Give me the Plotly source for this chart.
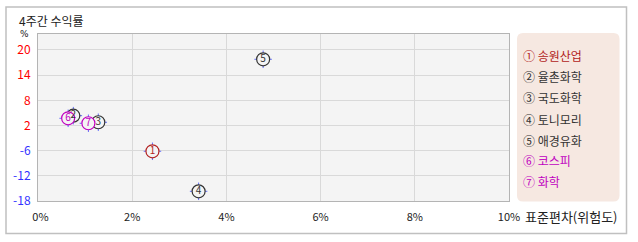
import plotly.graph_objects as go

names = ["송원산업", "율촌화학", "국도화학", "토니모리", "애경유화", "코스피", "화학"]
labels = ["1", "2", "3", "4", "5", "6", "7"]
circled = ["①", "②", "③", "④", "⑤", "⑥", "⑦"]
risk = [2.43, 0.75, 1.28, 3.41, 4.78, 0.64, 1.07]        # 표준편차 (%)
ret = [-5.49, 3.47, 1.81, -15.56, 17.66, 2.81, 1.56]     # 4주간 수익률 (%)
colors = ["#b22222", "#333333", "#333333", "#333333", "#333333", "#c000c0", "#c000c0"]

y_tick_vals = [-18, -11.667, -5.333, 1, 7.333, 13.667, 20]
y_tick_text = ["-18", "-12", "-6", "2", "8", "14", "20"]
x_tick_vals = [0, 2, 4, 6, 8, 10]
x_tick_text = ["\u00a0\u00a00%", "2%", "4%", "6%", "8%", "10%"]

FONT = "Noto Sans CJK KR, Dotum, sans-serif"

def ycol(t):
    return "#ff0000" if not t.startswith("-") else "#3333ff"

fig = go.Figure()
fig.add_trace(go.Scatter(
    x=risk, y=ret, mode="markers", hoverinfo="skip",
    marker=dict(symbol="cross-thin-open", size=12.5, line=dict(color=colors, width=1)),
    showlegend=False))
fig.add_trace(go.Scatter(
    x=risk, y=ret, mode="markers+text", text=labels, textposition="middle center",
    textfont=dict(family=FONT, size=10, color=colors),
    marker=dict(symbol="circle", size=13, color="#f4f4f4", line=dict(color=colors, width=1.2)),
    showlegend=False, hovertext=names))

fig.update_xaxes(range=[0, 10], tickvals=x_tick_vals, ticktext=x_tick_text,
                 showgrid=True, gridcolor="#d9d9d9", gridwidth=1, zeroline=False,
                 showline=True, linecolor="#b4b4b4", mirror=True,
                 ticks="outside", ticklen=6, tickcolor="rgba(0,0,0,0)",
                 tickfont=dict(family=FONT, size=11, color="#222"))
fig.update_yaxes(range=[-18, 24.02], tickvals=y_tick_vals,
                 ticktext=[f"<span style='color:{ycol(t)}'>{t}</span>" for t in y_tick_text],
                 showgrid=True, gridcolor="#d9d9d9", gridwidth=1, zeroline=False,
                 showline=True, linecolor="#b4b4b4", mirror=True,
                 ticks="outside", ticklen=4, tickcolor="rgba(0,0,0,0)",
                 tickfont=dict(family=FONT, size=12))

W, H = 638, 242
L, R, T, B = 38, 129, 34, 41
pw, ph = W - L - R, H - T - B

def px(x):
    return (x - L) / pw

def py(y):
    return (H - B - y) / ph

shapes = [
    dict(type="rect", xref="paper", yref="paper", x0=px(6), x1=px(626.5), y0=py(7), y1=py(233.5),
         line=dict(color="#c0c0c0", width=1.5), fillcolor="rgba(0,0,0,0)", layer="below"),
]
# rounded legend background
x0, x1, y0, y1, r = px(517), px(619.5), py(33), py(201.5), 6
rx, ry = r / pw, r / ph
path = (f"M {x0+rx},{y0} L {x1-rx},{y0} Q {x1},{y0} {x1},{y0-ry} L {x1},{y1+ry} "
        f"Q {x1},{y1} {x1-rx},{y1} L {x0+rx},{y1} Q {x0},{y1} {x0},{y1+ry} L {x0},{y0-ry} "
        f"Q {x0},{y0} {x0+rx},{y0} Z")
shapes.append(dict(type="path", xref="paper", yref="paper", path=path,
                   fillcolor="#f6e8e1", line=dict(width=0), layer="below"))

annotations = [
    dict(text="4주간 수익률", xref="paper", yref="paper", x=px(17), y=py(20),
         xanchor="left", yanchor="middle", showarrow=False,
         font=dict(family=FONT, size=12, color="#222")),
    dict(text="%", xref="paper", yref="paper", x=px(24.5), y=py(33.5),
         xanchor="center", yanchor="middle", showarrow=False, height=10,
         font=dict(family="DejaVu Sans", size=9, color="#222")),
    dict(text="표준편차(위험도)", xref="paper", yref="paper", x=px(523), y=py(216),
         xanchor="left", yanchor="middle", showarrow=False,
         font=dict(family=FONT, size=13, color="#222")),
]
leg_y = [55, 76, 97.5, 119, 140, 160.5, 181.5]
for c, n, col, yy in zip(circled, names, colors, leg_y):
    annotations.append(dict(text=f"{c} {n}", xref="paper", yref="paper", x=px(521), y=py(yy),
                            xanchor="left", yanchor="middle", showarrow=False,
                            font=dict(family=FONT, size=12, color=col)))

fig.update_layout(width=W, height=H, margin=dict(l=L, r=R, t=T, b=B),
                  paper_bgcolor="white", plot_bgcolor="#f4f4f4",
                  shapes=shapes, annotations=annotations, showlegend=False,
                  font=dict(family=FONT))

fig.write_html("out.html")
